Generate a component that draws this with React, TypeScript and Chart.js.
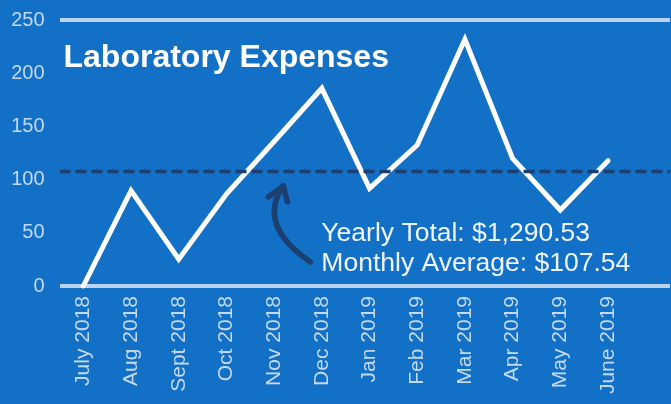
import React, { useEffect, useRef } from "react";
import { Chart, registerables } from "chart.js";

Chart.register(...registerables);

const categories = [
  "July 2018", "Aug 2018", "Sept 2018", "Oct 2018", "Nov 2018", "Dec 2018",
  "Jan 2019", "Feb 2019", "Mar 2019", "Apr 2019", "May 2019", "June 2019",
];
const expenses = [0, 89.6, 25.1, 86.5, 135.8, 185.8, 91.8, 132.5, 231.9, 120.0, 71.4, 117.8];
const monthlyAverage = 107.54;
const yearlyTotal = "$1,290.53";
const monthlyAverageText = "$107.54";
const yTicks = [0, 50, 100, 150, 200, 250];
const title = "Laboratory Expenses";

// annotation anchors in data units (x = month index, y = dollars)
const arrowTail = { x: 4.76, y: 22.6 };
const arrowCtrl = { x: 3.63, y: 57.3 };
const arrowTip = { x: 4.19, y: 94 };
const arrowBarbs = [{ x: 3.88, y: 83.6 }, { x: 4.28, y: 79 }];
const noteAnchor = { x: 4.99, y1: 42.3, y2: 14.1 };

const X_MIN = -0.5;
const X_MAX = 12.3;

const BG = "#1270C6";
const TICK = "#c3d9f1";
const NAVY = "#1b3f70";

const overlay = {
  id: "overlay",
  afterDatasetsDraw(chart: any) {
    const { ctx, chartArea, scales } = chart;
    const xs = scales.x, ys = scales.y;
    const px = (p: { x: number; y: number }) => [xs.getPixelForValue(p.x), ys.getPixelForValue(p.y)];
    ctx.save();
    // title
    ctx.fillStyle = "#ffffff";
    ctx.font = "bold 32px 'Liberation Sans', Arial, sans-serif";
    ctx.textBaseline = "alphabetic";
    ctx.textAlign = "left";
    ctx.fillText(title, chartArea.left + 4, chartArea.top + 47);
    // arrow
    ctx.strokeStyle = NAVY;
    ctx.lineWidth = 5.5;
    ctx.lineCap = "round";
    ctx.lineJoin = "round";
    const [tx, ty] = px(arrowTail);
    const [cx, cy] = px(arrowCtrl);
    const [hx, hy] = px(arrowTip);
    ctx.beginPath();
    ctx.moveTo(tx, ty);
    ctx.quadraticCurveTo(cx, cy, hx, hy);
    ctx.stroke();
    ctx.beginPath();
    const [b1x, b1y] = px(arrowBarbs[0]);
    const [b2x, b2y] = px(arrowBarbs[1]);
    ctx.moveTo(b1x, b1y);
    ctx.lineTo(hx, hy);
    ctx.lineTo(b2x, b2y);
    ctx.stroke();
    // notes
    ctx.fillStyle = "#eef4fb";
    ctx.font = "26.5px 'Liberation Sans', Arial, sans-serif";
    const nx = xs.getPixelForValue(noteAnchor.x);
    ctx.fillText(`Yearly Total: ${yearlyTotal}`, nx, ys.getPixelForValue(noteAnchor.y1));
    ctx.fillText(`Monthly Average: ${monthlyAverageText}`, nx, ys.getPixelForValue(noteAnchor.y2));
    ctx.restore();
  },
};

export default function App() {
  const ref = useRef<HTMLCanvasElement>(null);
  useEffect(() => {
    document.body.style.margin = "0";
    const chart = new Chart(ref.current!, {
      type: "line",
      data: {
        datasets: [
          {
            data: [{ x: X_MIN, y: monthlyAverage }, { x: X_MAX, y: monthlyAverage }],
            borderColor: NAVY,
            borderWidth: 3.5,
            borderDash: [11, 5],
            pointRadius: 0,
            order: 0,
          },
          {
            data: expenses.map((v, i) => ({ x: i, y: v })),
            borderColor: "#ffffff",
            borderWidth: 5,
            pointRadius: 0,
            tension: 0,
            borderJoinStyle: "miter",
            borderCapStyle: "round",
            order: 1,
            clip: false as any,
          },
        ],
      },
      options: {
        animation: false,
        responsive: false,
        maintainAspectRatio: false,
        layout: { padding: { top: 20, right: 1, left: 0, bottom: 0 } },
        plugins: { legend: { display: false }, tooltip: { enabled: false } },
        scales: {
          x: {
            type: "linear",
            min: X_MIN,
            max: X_MAX,
            afterBuildTicks: (s: any) => {
              s.ticks = categories.map((_, i) => ({ value: i }));
            },
            afterFit: (s: any) => {
              s.height = 118;
              s.paddingLeft = 0;
              s.paddingRight = 0;
            },
            ticks: {
              autoSkip: false,
              minRotation: 90,
              maxRotation: 90,
              padding: 2,
              color: TICK,
              font: { size: 21, family: "'Liberation Sans', Arial, sans-serif" },
              callback: (v: any) => categories[v] ?? "",
            },
            grid: { display: false },
            border: { display: false },
          },
          y: {
            min: 0,
            max: 250,
            afterBuildTicks: (s: any) => {
              s.ticks = yTicks.map((v) => ({ value: v }));
            },
            afterFit: (s: any) => {
              s.width = 59.5;
              s.paddingTop = 0;
              s.paddingBottom = 0;
            },
            ticks: {
              padding: 15,
              color: TICK,
              font: { size: 20, family: "'Liberation Sans', Arial, sans-serif" },
            },
            grid: {
              drawTicks: false,
              lineWidth: 4,
              color: (c: any) =>
                c.tick && (c.tick.value === 0 || c.tick.value === 250) ? "#b9d3f0" : "rgba(0,0,0,0)",
            },
            border: { display: false },
          },
        },
      },
      plugins: [overlay],
    });
    return () => chart.destroy();
  }, []);
  return (
    <div style={{ width: 671, height: 404, background: BG }}>
      <canvas ref={ref} width={671} height={404} style={{ display: "block" }} />
    </div>
  );
}
